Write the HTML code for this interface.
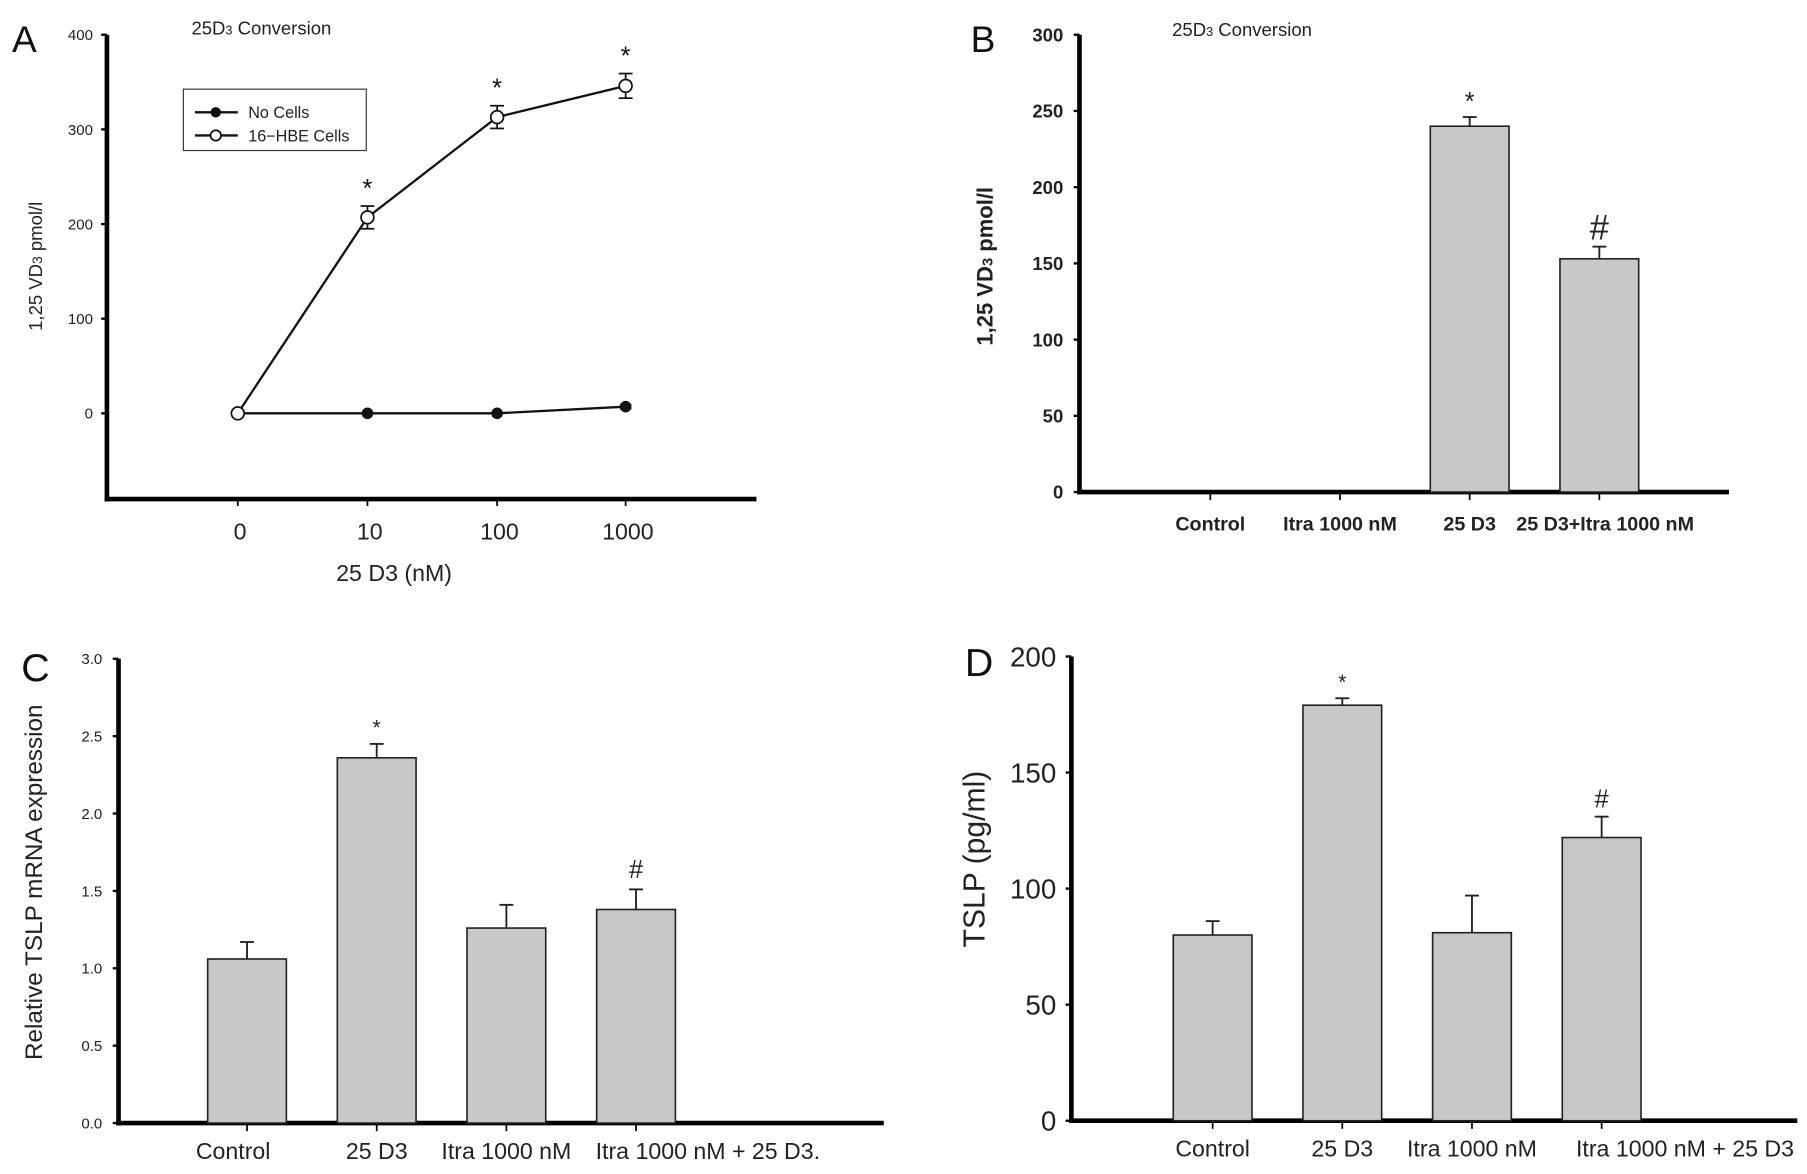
<!DOCTYPE html>
<html><head><meta charset="utf-8">
<style>
html,body{margin:0;padding:0;background:#fff;}
svg{display:block;font-family:"Liberation Sans",Arial,sans-serif;}
</style></head>
<body>
<svg id="fig" width="1807" height="1174" viewBox="0 0 1560 1014" xmlns="http://www.w3.org/2000/svg"></svg>
<script>
// Panel A data
const aCategories = ["0","10","100","1000"];
const aCells = [0, 207, 313, 346];
const aCellsErr = [0, 12, 12, 13];
const aNoCells = [0, 0, 0, 7];
const aNoCellsErr = [0, 0, 0, 2];
const aTicks = [0, 100, 200, 300, 400];
// Panel B data
const bCategories = ["Control","Itra 1000 nM","25 D3","25 D3+Itra 1000 nM"];
const bValues = [0, 0, 240, 153];
const bErr = [0, 0, 6, 8];
const bMarks = ["", "", "*", "#"];
const bTicks = [0, 50, 100, 150, 200, 250, 300];
// Panel C data
const cCategories = ["Control","25 D3","Itra 1000 nM","Itra 1000 nM + 25 D3."];
const cValues = [1.06, 2.36, 1.26, 1.38];
const cErr = [0.11, 0.09, 0.15, 0.13];
const cMarks = ["", "*", "", "#"];
const cTicks = [0.0, 0.5, 1.0, 1.5, 2.0, 2.5, 3.0];
// Panel D data
const dCategories = ["Control","25 D3","Itra 1000 nM","Itra 1000 nM + 25 D3"];
const dValues = [80, 179, 81, 122];
const dErr = [6, 3, 16, 9];
const dMarks = ["", "*", "", "#"];
const dTicks = [0, 50, 100, 150, 200];

const NS = "http://www.w3.org/2000/svg";
const svg = document.getElementById('fig');
function mk(tag, attrs, parent, text) {
  const e = document.createElementNS(NS, tag);
  for (const k in attrs) e.setAttribute(k, attrs[k]);
  if (text !== undefined) e.textContent = text;
  (parent || svg).appendChild(e);
  return e;
}
function lin(d0, d1, r0, r1) { return v => r0 + (v - d0) * (r1 - r0) / (d1 - d0); }

function axes(g, x0, yTop, yZero, yBottom, xRight, ticks, y, tickFmt, tickSize, bold, tickRight) {
  const yl = mk('line', {x1:x0, y1:yTop, x2:x0, y2:yBottom+2, stroke:'#000','stroke-width':4}, g);
  
  
  const xl = mk('line', {x1:x0-2, y1:yBottom, x2:xRight, y2:yBottom, stroke:'#000','stroke-width':4}, g);
  
  
  ticks.forEach(t => {
    mk('line', {x1:x0-5, y1:y(t), x2:x0, y2:y(t), stroke:'#000','stroke-width':2}, g);
    const tl = mk('text', {x:tickRight, y:y(t)+tickSize*0.36, 'font-size':tickSize, 'text-anchor':'end', 'font-weight':bold?'bold':'normal', fill:'#222'}, g, tickFmt(t));
    
    
  });
}

function barPanel(opts) {
  const g = mk('g', {});
  
  
  const y = lin(0, opts.ticks[opts.ticks.length-1], opts.yZero, opts.yTop);
  axes(g, opts.x0, opts.yTop, opts.yZero, opts.yZero, opts.xRight, opts.ticks, y, opts.fmt, opts.tickSize, opts.bold, opts.tickRight);
  opts.cats.forEach((c, i) => {
    const cx = opts.xFirst + i * opts.step;
    mk('line', {x1:cx, y1:opts.yZero, x2:cx, y2:opts.yZero+7, stroke:'#000','stroke-width':1.5}, g);
    const v = opts.values[i];
    if (v > 0) {
      const top = y(v), et = y(v + opts.err[i]);
      mk('line', {x1:cx, y1:top, x2:cx, y2:et, stroke:'#222','stroke-width':1.6}, g);
      mk('line', {x1:cx-6, y1:et, x2:cx+6, y2:et, stroke:'#222','stroke-width':1.6}, g);
      const b = mk('rect', {x:cx-34, y:top, width:68, height:opts.yZero-top, fill:'#c8c8c8', stroke:'#222','stroke-width':1.4}, g);
      
      
      if (opts.marks[i]) {
        const isStar = opts.marks[i] === '*';
        const m = mk('text', {x:cx, y:et - (isStar ? opts.starGap : opts.hashGap), 'font-size':isStar?opts.starSize:opts.hashSize, 'text-anchor':'middle', fill:'#222'}, g, opts.marks[i]);
        
        
      }
    }
    const lab = mk('text', {x:cx + (opts.labOff ? opts.labOff[i] : 0), y:opts.labY, 'font-size':opts.labSize, 'text-anchor':'middle', 'font-weight':opts.bold?'bold':'normal', fill:'#222'}, g, c);
    
    
  });
  return g;
}

// ---------- Panel A ----------
(function(){
  const g = mk('g', {});
  
  
  const y = lin(0, 400, 357, 30);
  const xs = [205, 317, 429, 540];
  axes(g, 92, 30, 357, 431, 653, aTicks, y, t => String(t), 13, false, 80);
  xs.forEach((x, i) => {
    mk('line', {x1:x, y1:431, x2:x, y2:437, stroke:'#000','stroke-width':1.5}, g);
    const t = mk('text', {x:x+2, y:466, 'font-size':20, 'text-anchor':'middle', fill:'#222'}, g, aCategories[i]);
    
    
  });
  const p1 = mk('polyline', {points: aNoCells.map((v,i)=>xs[i]+','+y(v)).join(' '), fill:'none', stroke:'#111','stroke-width':2}, g);
  
  
  const p2 = mk('polyline', {points: aCells.map((v,i)=>xs[i]+','+y(v)).join(' '), fill:'none', stroke:'#111','stroke-width':2}, g);
  
  
  aNoCells.forEach((v,i) => {
    if (aNoCellsErr[i]) {
      mk('line', {x1:xs[i]-5, y1:y(v+aNoCellsErr[i]), x2:xs[i]+5, y2:y(v+aNoCellsErr[i]), stroke:'#111','stroke-width':1.5}, g);
      mk('line', {x1:xs[i]-5, y1:y(v-aNoCellsErr[i]), x2:xs[i]+5, y2:y(v-aNoCellsErr[i]), stroke:'#111','stroke-width':1.5}, g);
    }
    const c = mk('circle', {cx:xs[i], cy:y(v), r:5, fill:'#111'}, g);
    
    
  });
  aCells.forEach((v,i) => {
    const e = aCellsErr[i];
    if (e) {
      mk('line', {x1:xs[i], y1:y(v+e), x2:xs[i], y2:y(v-e), stroke:'#111','stroke-width':1.5}, g);
      mk('line', {x1:xs[i]-6, y1:y(v+e), x2:xs[i]+6, y2:y(v+e), stroke:'#111','stroke-width':1.5}, g);
      mk('line', {x1:xs[i]-6, y1:y(v-e), x2:xs[i]+6, y2:y(v-e), stroke:'#111','stroke-width':1.5}, g);
      const s = mk('text', {x:xs[i], y:y(v+e)-8, 'font-size':22, 'text-anchor':'middle', fill:'#111'}, g, '*');
      
      
    }
    const c = mk('circle', {cx:xs[i], cy:y(v), r:5.5, fill:'#fff', stroke:'#111','stroke-width':1.5}, g);
    
    
  });
  const lg = mk('g', {}, g);
  
  
  mk('rect', {x:158, y:77, width:158, height:53, fill:'#fff', stroke:'#333','stroke-width':1}, lg);
  mk('line', {x1:168, y1:97, x2:205, y2:97, stroke:'#111','stroke-width':2}, lg);
  mk('circle', {cx:186, cy:97, r:4.5, fill:'#111'}, lg);
  mk('text', {x:214, y:102, 'font-size':14, fill:'#222'}, lg, 'No Cells');
  mk('line', {x1:168, y1:117, x2:205, y2:117, stroke:'#111','stroke-width':2}, lg);
  mk('circle', {cx:186, cy:117, r:4.5, fill:'#fff', stroke:'#111','stroke-width':1.5}, lg);
  mk('text', {x:214, y:122, 'font-size':14, fill:'#222'}, lg, '16\u2212HBE Cells');
  const L = mk('text', {x:10, y:45, 'font-size':32, fill:'#111'}, g, 'A');
  
  
  const T = mk('text', {x:165, y:30, 'font-size':16, fill:'#222'}, g);
  
  
  T.innerHTML = '25D<tspan font-size="11">3</tspan> Conversion';
  const YT = mk('text', {transform:'translate(36,230) rotate(-90)', 'font-size':16, 'text-anchor':'middle', fill:'#222'}, g);
  
  
  YT.innerHTML = '1,25 VD<tspan font-size="12">3</tspan> pmol/l';
  const XT = mk('text', {x:340, y:502, 'font-size':20, 'text-anchor':'middle', fill:'#222'}, g, '25 D3 (nM)');
  
  
})();

// ---------- Panel B ----------
(function(){
  const g = barPanel({name:'panel-b', x0:932, yTop:30, yZero:425, xRight:1493, ticks:bTicks, fmt:t=>String(t), tickSize:16, bold:true, tickRight:918,
    cats:bCategories, values:bValues, err:bErr, marks:bMarks, xFirst:1045, step:112, labY:458, labSize:17,
    labOff:[0,0,0,5], starGap:6, hashGap:6, starSize:22, hashSize:30});
  const L = mk('text', {x:838, y:45, 'font-size':32, fill:'#111'}, g, 'B');
  
  
  const T = mk('text', {x:1012, y:31, 'font-size':16, fill:'#222'}, g);
  
  
  T.innerHTML = '25D<tspan font-size="11">3</tspan> Conversion';
  const YT = mk('text', {transform:'translate(857,230) rotate(-90)', 'font-size':19, 'font-weight':'bold', 'text-anchor':'middle', fill:'#222'}, g);
  
  
  YT.innerHTML = '1,25 VD<tspan font-size="13">3</tspan> pmol/l';
})();

// ---------- Panel C ----------
(function(){
  const g = barPanel({name:'panel-c', x0:102, yTop:569, yZero:970, xRight:763, ticks:cTicks, fmt:t=>t.toFixed(1), tickSize:13, bold:false, tickRight:88,
    cats:cCategories, values:cValues, err:cErr, marks:cMarks, xFirst:213, step:112, labY:1001, labSize:20,
    labOff:[-12,0,0,62], starGap:8, hashGap:10, starSize:18, hashSize:22});
  const L = mk('text', {x:18, y:588, 'font-size':34, fill:'#111'}, g, 'C');
  
  
  const YT = mk('text', {transform:'translate(36,762) rotate(-90)', 'font-size':21, 'text-anchor':'middle', fill:'#222'}, g, 'Relative TSLP mRNA expression');
  
  
})();

// ---------- Panel D ----------
(function(){
  const g = barPanel({name:'panel-d', x0:925, yTop:567, yZero:968, xRight:1552, ticks:dTicks, fmt:t=>String(t), tickSize:24, bold:false, tickRight:912,
    cats:dCategories, values:dValues, err:dErr, marks:dMarks, xFirst:1047, step:112, labY:999, labSize:20,
    labOff:[0,0,0,72], starGap:8, hashGap:8, starSize:18, hashSize:22});
  const L = mk('text', {x:833, y:584, 'font-size':34, fill:'#111'}, g, 'D');
  
  
  const YT = mk('text', {transform:'translate(850,742) rotate(-90)', 'font-size':26, 'text-anchor':'middle', fill:'#222'}, g, 'TSLP  (pg/ml)');
  
  
})();
</script>
</body></html>
